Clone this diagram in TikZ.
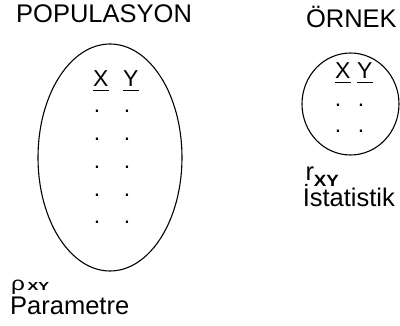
\documentclass[tikz,border=0pt]{standalone}
\usepackage{fontspec}
\setmainfont{Liberation Sans}
\usetikzlibrary{shapes.geometric}
\begin{document}
\begin{tikzpicture}[x=1pt,y=-1pt,
  set/.style={draw, ellipse, line width=1.1pt, inner sep=0pt},
  lbl/.style={inner sep=0pt, anchor=base west, font=\fontsize{25.5}{30}\selectfont},
  var/.style={inner sep=0pt, anchor=base west, font=\fontsize{23}{28}\selectfont},
  pt/.style={inner sep=0pt, anchor=base, font=\fontsize{23}{28}\selectfont},
  ul/.style={line width=1.4pt}]
\useasboundingbox (0,0) rectangle (400,326);
% sets
\node[set, minimum width=144pt, minimum height=227pt] (pop) at (110,157.5) {};
\node[set, minimum width=97pt, minimum height=102pt] (orn) at (350.5,104) {};
% titles
\node[lbl] (popt) at (16,22.5) {POPULASYON};
\node[lbl] (ornt) at (305.8,28) {ÖRNEK};
% variables in population
\node[var] (px) at (93,87) {X};
\node[var] (py) at (123,87) {Y};
\draw[ul] ([yshift=-3.8pt]px.base west) -- ([yshift=-3.8pt]px.base east);
\draw[ul] ([yshift=-3.8pt]py.base west) -- ([yshift=-3.8pt]py.base east);
\foreach \i/\y in {1/111.7,2/139.3,3/167.3,4/195,5/222.7}{
  \node[pt] (pdx\i) at (97,\y+1.2) {.};
  \node[pt] (pdy\i) at (127,\y+1.2) {.};
}
% variables in sample
\node[var] (sx) at (335,79) {X};
\node[var] (sy) at (357,79) {Y};
\draw[ul] ([yshift=-3.8pt]sx.base west) -- ([yshift=-3.8pt]sx.base east);
\draw[ul] ([yshift=-3.8pt]sy.base west) -- ([yshift=-3.8pt]sy.base east);
\foreach \i/\y in {1/105.7,2/131.7}{
  \node[pt] (sdx\i) at (338,\y+1.2) {.};
  \node[pt] (sdy\i) at (361,\y+1.2) {.};
}
% labels
\node[lbl] (rho) at (11,291) {{\fontsize{19.5}{22}\selectfont\scalebox{1.25}[1]{ρ}}\hspace{2.5pt}{\fontsize{11.6}{14}\selectfont\bfseries\scalebox{1.4}[1]{XY}}};
\node[lbl] (param) at (10,315) {Parametre};
\node[lbl] (rxy) at (305.3,181) {r\raisebox{-6pt}[6pt][0pt]{\fontsize{16.3}{20}\selectfont\bfseries\scalebox{1.15}[1]{XY}}};
\node[lbl] (ist) at (302.6,207) {İstatistik};
\end{tikzpicture}
\end{document}
